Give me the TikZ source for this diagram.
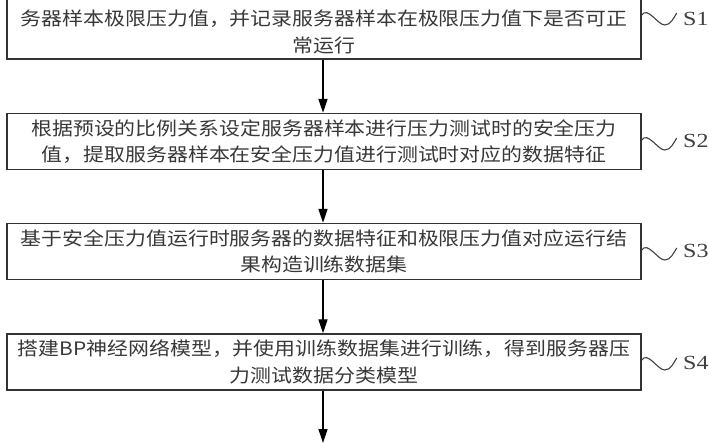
\documentclass[tikz,border=0pt]{standalone}
\usepackage{fontspec}
\newfontfamily\cjk[FakeStretch=1.13]{Noto Sans CJK SC}
\newfontfamily\lbl[FakeStretch=1.2]{Liberation Serif}
\usetikzlibrary{arrows.meta}
\begin{document}
\begin{tikzpicture}[x=1pt,y=-1pt,
  stepbox/.style={draw=black!80,line width=1.4pt,minimum width=634pt,minimum height=56pt,
    inner sep=0pt,align=center,text=black!78,font=\cjk\fontsize{18.5}{26.5}\selectfont},
  flow/.style={draw=black,line width=1.3pt,-{Triangle[length=14pt,width=9pt]}},
  wave/.style={draw=black!75,line width=1.1pt},
  slabel/.style={anchor=west,inner sep=0pt,text=black!75,font=\lbl\fontsize{20}{22}\selectfont}]
\useasboundingbox (0,0) rectangle (709,443);
\fill[white] (0,0) rectangle (709,443);
\node[stepbox,minimum height=83pt] (b1) at (324,17.5) {\strut\\务器样本极限压力值，并记录服务器样本在极限压力值下是否可正\\常运行};
\node[stepbox] (b2) at (324,141.5) {根据预设的比例关系设定服务器样本进行压力测试时的安全压力\\值，提取服务器样本在安全压力值进行测试时对应的数据特征};
\node[stepbox] (b3) at (324,251.5) {基于安全压力值运行时服务器的数据特征和极限压力值对应运行结\\果构造训练数据集};
\node[stepbox] (b4) at (324,362) {搭建BP神经网络模型，并使用训练数据集进行训练，得到服务器压\\力测试数据分类模型};
\coordinate (out) at (323,443);
\draw[flow] (b1.south -| out) -- (b2.north -| out);
\draw[flow] (b2.south -| out) -- (b3.north -| out);
\draw[flow] (b3.south -| out) -- (b4.north -| out);
\draw[flow] (b4.south -| out) -- (out);
\node[slabel] (s1) at (683,19) {S1};
\node[slabel] (s2) at (683,141) {S2};
\node[slabel] (s3) at (683,251) {S3};
\node[slabel] (s4) at (683,363) {S4};
\foreach \b/\y in {b1/15,b2/140,b3/250,b4/360}{
  \draw[wave] (\b.east |- 0,\y) .. controls +(6,-9) and +(-7,0) .. ++(23,10)
     .. controls +(6,0) and +(-3,5) .. ++(12,-12);
}
\end{tikzpicture}
\end{document}
